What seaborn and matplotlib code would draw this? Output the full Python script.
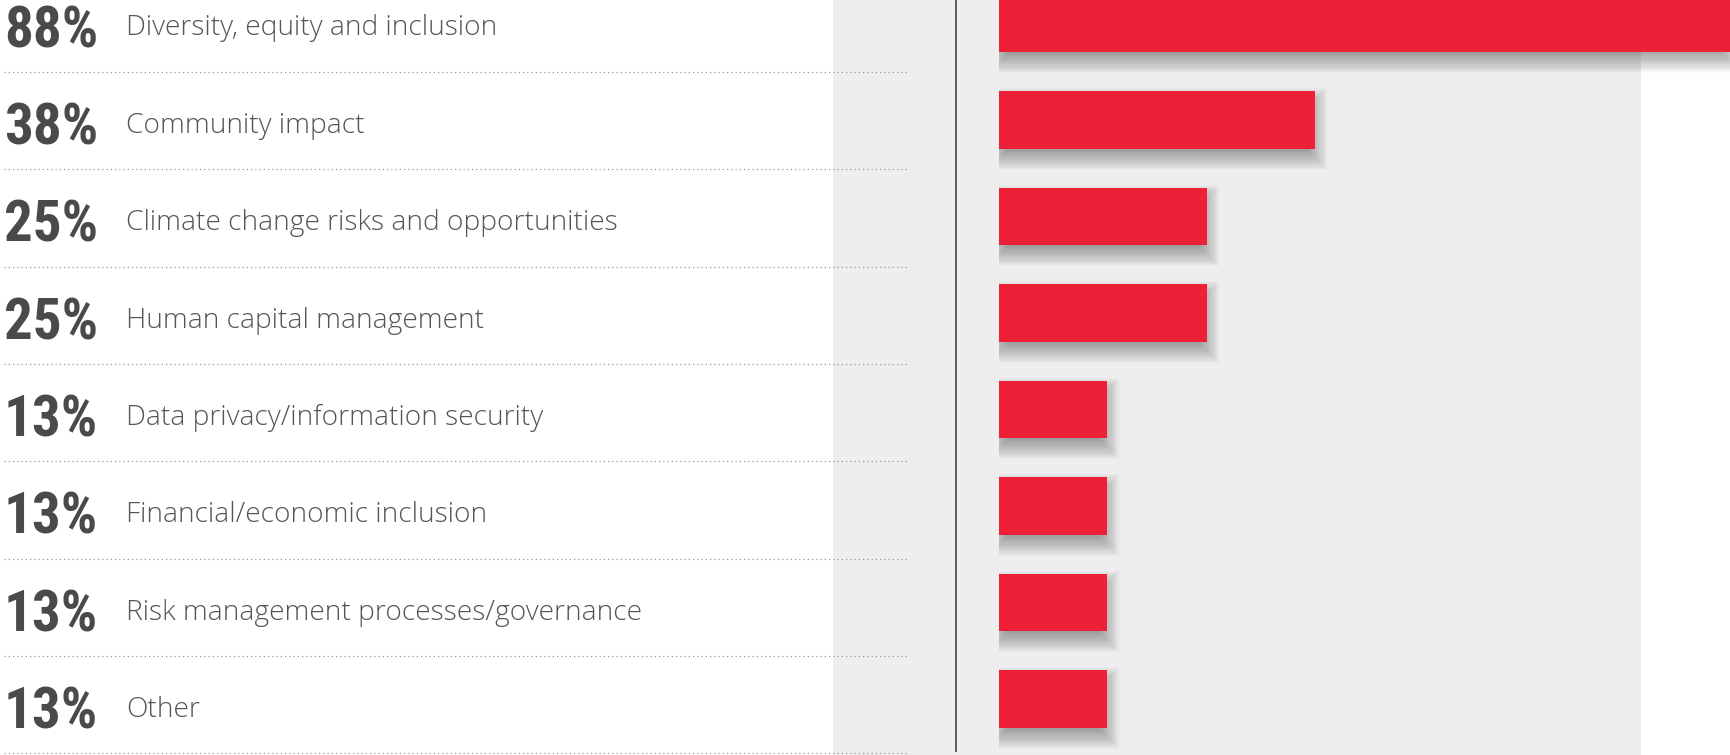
import os
import numpy as np
import pandas as pd
import matplotlib
matplotlib.use("Agg")
import matplotlib.pyplot as plt
import matplotlib.patheffects as pe
from matplotlib.transforms import Affine2D
from matplotlib import font_manager as fm
import seaborn as sns

# ---------------- data ----------------
categories = [
    "Diversity, equity and inclusion",
    "Community impact",
    "Climate change risks and opportunities",
    "Human capital management",
    "Data privacy/information security",
    "Financial/economic inclusion",
    "Risk management processes/governance",
    "Other",
]
values = [88, 38, 25, 25, 13, 13, 13, 13]
pct_labels = [f"{v}%" for v in values]

# ---------------- style ----------------
W, H, DPI = 1731, 755, 100
RED = "#ee2037"
PANEL = "#eeeeee"
PCT_COLOR = "#4a4a4c"
LAB_COLOR = "#555557"

sns.set_theme(style="white")
label_family = ["Open Sans", "DejaVu Sans"]
plt.rcParams["font.family"] = label_family


def pick_condensed_bold():
    """Find a condensed/narrow bold face among the installed fonts."""
    entries = fm.fontManager.ttflist
    def ok_weight(f):
        w = f.weight if isinstance(f.weight, int) else 400
        return w >= 600 and f.style == "normal"
    for wanted in ["Liberation Sans Narrow", "Roboto Condensed", "Open Sans Condensed",
                   "Noto Sans Condensed", "DejaVu Sans Condensed"]:
        for f in entries:
            if f.name == wanted and ok_weight(f):
                return fm.FontProperties(fname=f.fname)
    for f in entries:
        base = os.path.basename(f.fname).lower()
        if (("condensed" in base or "narrow" in base) and "bold" in base
                and "extra" not in base and "semi" not in base and "italic" not in base
                and "oblique" not in base):
            return fm.FontProperties(fname=f.fname)
    for f in entries:
        if f.stretch in ("condensed", "semi-condensed") and ok_weight(f):
            return fm.FontProperties(fname=f.fname)
    return fm.FontProperties(family=["Roboto", "DejaVu Sans"], weight="bold")


pct_font = pick_condensed_bold()


class SoftShadow(pe.AbstractPathEffect):
    """Blurred drop shadow built from stacked, dilated translucent copies."""

    def __init__(self, offset=(0.5, -9), radius=12, layers=22, alpha=0.019, color="black"):
        super().__init__(offset=(0, 0))
        self.dx, self.dy = offset
        self.radius = radius
        self.layers = layers
        self.alpha = alpha
        self.color = matplotlib.colors.to_rgb(color)

    def draw_path(self, renderer, gc, tpath, affine, rgbFace=None):
        ext = tpath.get_extents(affine)
        x0, y0, x1, y1 = ext.x0, ext.y0, ext.x1, ext.y1
        w = max(x1 - x0, 1e-6)
        h = max(y1 - y0, 1e-6)
        cx, cy = (x0 + x1) / 2, (y0 + y1) / 2
        for e in np.linspace(-self.radius, self.radius, self.layers):
            sx = max(w + 2 * e, 0.1) / w
            sy = max(h + 2 * e, 0.1) / h
            t = Affine2D().translate(-cx, -cy).scale(sx, sy).translate(cx + self.dx, cy + self.dy)
            gc0 = renderer.new_gc()
            gc0.copy_properties(gc)
            gc0.set_foreground("none")
            gc0.set_alpha(self.alpha)
            gc0.set_linewidth(0)
            renderer.draw_path(gc0, tpath, affine + t, self.color)
            gc0.restore()


fig = plt.figure(figsize=(W / DPI, H / DPI), dpi=DPI)
fig.patch.set_facecolor("white")

# ---------------- background / labels layer (pixel coordinates) ----------------
bg = fig.add_axes([0, 0, 1, 1], zorder=0)
bg.set_xlim(0, W)
bg.set_ylim(H, 0)
bg.axis("off")
bg.axvspan(833, 1641, color=PANEL, lw=0, zorder=0)
bg.vlines(956.5, 0, 752, color="#454545", lw=1.2, zorder=1)

row_pitch = 97.35
rows = np.arange(len(categories))
bg.hlines(72 + rows * row_pitch, 4, 907, colors="#969696", lw=0.9,
          linestyles=[(0, (1, 2.4))], zorder=1)

pct_texts, lab_texts = [], []
for i, (p, c) in enumerate(zip(pct_labels, categories)):
    pct_texts.append(bg.text(4, 47 + i * row_pitch, p, fontproperties=pct_font,
                             fontsize=40, color=PCT_COLOR, ha="left", va="baseline", zorder=3))
    lab_texts.append(bg.text(126, 35.5 + i * row_pitch, c, family=label_family, fontweight="light",
                             fontsize=19, color=LAB_COLOR, ha="left", va="baseline", zorder=3))

# fit text sizes to the reference widths
fig.canvas.draw()
r = fig.canvas.get_renderer()
s_lab = 371 / lab_texts[0].get_window_extent(r).width
for t in lab_texts:
    t.set_fontsize(t.get_fontsize() * s_lab)
s_pct = 95 / pct_texts[0].get_window_extent(r).width
new_pct_size = min(40 * s_pct, 41)
for t in pct_texts:
    t.set_fontsize(new_pct_size)

# ---------------- bars layer ----------------
x0_px = 999
px_per_pct = 8.31
bar_pitch = 96.5
first_center = 23.5

bx = fig.add_axes([x0_px / W, 0, (W - x0_px) / W, 1], zorder=2)
bx.patch.set_alpha(0)
df = pd.DataFrame({"category": categories, "value": values})
sns.barplot(data=df, x="value", y="category", orient="h", color=RED, saturation=1,
            width=0.6, linewidth=0, ax=bx)
bx.set_xlim(0, (W - x0_px) / px_per_pct)
bx.set_ylim((H - first_center) / bar_pitch, -first_center / bar_pitch)
bx.axis("off")

for patch in bx.patches:
    patch.set_path_effects([SoftShadow(), pe.Normal()])

fig.savefig("out.png", dpi=DPI)
